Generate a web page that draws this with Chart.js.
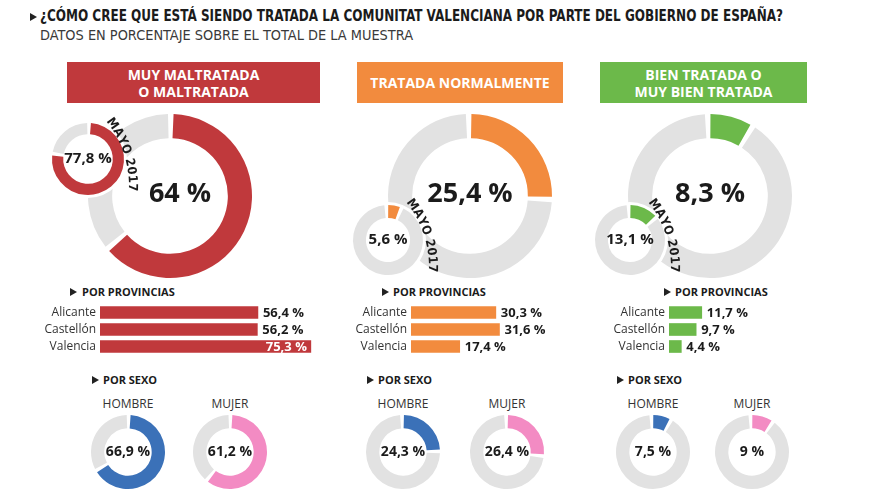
<!DOCTYPE html>
<html><head><meta charset="utf-8">
<script src="https://cdn.jsdelivr.net/npm/chart.js@4.4.1/dist/chart.umd.min.js"></script>
<style>
html,body{margin:0;padding:0;background:#fff;}
body{width:880px;height:495px;position:relative;overflow:hidden;font-family:"Open Sans",sans-serif;color:#1b1b1b;}
.abs{position:absolute;white-space:nowrap;}
canvas{position:absolute;}
.tri{position:absolute;width:0;height:0;border-left:7px solid #222;border-top:4px solid transparent;border-bottom:4px solid transparent;}
.title{left:40px;top:8px;font-family:"Liberation Sans Narrow","DejaVu Sans Condensed",sans-serif;font-weight:bold;font-size:15.5px;line-height:16px;transform-origin:0 0;display:inline-block;}
.sub{left:40px;top:27px;font-family:"Liberation Sans Narrow","DejaVu Sans Condensed",sans-serif;font-size:13.5px;line-height:16px;color:#3a3a3a;transform-origin:0 0;display:inline-block;}
.head{position:absolute;top:62px;height:41px;color:#fff;font-weight:bold;font-size:14px;line-height:17px;text-align:center;display:flex;flex-direction:column;justify-content:center;}
.sec{font-weight:bold;font-size:11px;line-height:14px;}
.sx{font-size:12px;line-height:14px;color:#333;transform:translateX(-50%);}
</style></head>
<body>
<div class="tri" style="left:30px;top:13px"></div>
<div class="abs title" data-fit="743">¿CÓMO CREE QUE ESTÁ SIENDO TRATADA LA COMUNITAT VALENCIANA POR PARTE DEL GOBIERNO DE ESPAÑA?</div>
<div class="abs sub" data-fit="373">DATOS EN PORCENTAJE SOBRE EL TOTAL DE LA MUESTRA</div>

<div class="head" style="left:67px;width:253px;background:#c0393c">MUY MALTRATADA<br>O MALTRATADA</div>
<div class="head" style="left:357px;width:206px;background:#f28b3e">TRATADA NORMALMENTE</div>
<div class="head" style="left:600px;width:207px;background:#6cb94a">BIEN TRATADA O<br>MUY BIEN TRATADA</div>

<div class="tri" style="left:70px;top:288px"></div><div class="abs sec" style="left:82px;top:285px">POR PROVINCIAS</div>
<div class="tri" style="left:382px;top:288px"></div><div class="abs sec" style="left:393px;top:285px">POR PROVINCIAS</div>
<div class="tri" style="left:664px;top:288px"></div><div class="abs sec" style="left:675px;top:285px">POR PROVINCIAS</div>

<div class="tri" style="left:92px;top:376px"></div><div class="abs sec" style="left:103px;top:373px">POR SEXO</div>
<div class="tri" style="left:367px;top:376px"></div><div class="abs sec" style="left:378px;top:373px">POR SEXO</div>
<div class="tri" style="left:617px;top:376px"></div><div class="abs sec" style="left:628px;top:373px">POR SEXO</div>

<script>
// ---- DATA ----
const categories = ['MUY MALTRATADA O MALTRATADA', 'TRATADA NORMALMENTE', 'BIEN TRATADA O MUY BIEN TRATADA'];
const totalValues = [64, 25.4, 8.3];
const mayo2017Values = [77.8, 5.6, 13.1];
const mayoLabel = 'MAYO 2017';
const provinces = ['Alicante', 'Castellón', 'Valencia'];
const provMaltratada = [56.4, 56.2, 75.3];
const provNormal = [30.3, 31.6, 17.4];
const provBien = [11.7, 9.7, 4.4];
const sexLabels = ['HOMBRE', 'MUJER'];
const hombreValues = [66.9, 24.3, 7.5];
const mujerValues = [61.2, 26.4, 9];

// ---- STYLE ----
const colColors = ['#c0393c', '#f28b3e', '#6cb94a'];
const GRAY = '#e2e2e2';
const BLUE = '#3b71b8';
const PINK = '#f38bc3';
const TXT = '#1b1b1b';
const provSeries = [provMaltratada, provNormal, provBien];

function fmt(v) { return String(v).replace('.', ',') + ' %'; }

function makeCanvas(x, y, w, h) {
  const c = document.createElement('canvas');
  c.width = w; c.height = h;
  c.style.left = x + 'px'; c.style.top = y + 'px';
  c.style.width = w + 'px'; c.style.height = h + 'px';
  document.body.appendChild(c);
  return c.getContext('2d');
}

function drawArcText(ctx, text, cx, cy, radius, midDeg, font) {
  ctx.font = font;
  ctx.fillStyle = TXT;
  const sp = 0.3;
  let total = 0;
  for (const ch of text) total += ctx.measureText(ch).width + sp;
  let ang = midDeg * Math.PI / 180 - (total / radius) / 2;
  for (const ch of text) {
    const w = ctx.measureText(ch).width + sp;
    const a = ang + (w / 2) / radius;
    ctx.save();
    ctx.translate(cx + radius * Math.cos(a), cy + radius * Math.sin(a));
    ctx.rotate(a + Math.PI / 2);
    ctx.textAlign = 'center'; ctx.textBaseline = 'alphabetic';
    ctx.fillText(ch, 0, 0);
    ctx.restore();
    ang += w / radius;
  }
}

const decoPlugin = {
  id: 'donutDeco',
  beforeDatasetsDraw(chart, args, o) {
    if (o.halo) {
      const m = chart.getDatasetMeta(0).data[0];
      const ctx = chart.ctx;
      ctx.save();
      ctx.beginPath();
      ctx.arc(m.x, m.y, m.outerRadius + o.halo, 0, Math.PI * 2);
      ctx.fillStyle = '#fff';
      ctx.fill();
      ctx.restore();
    }
  },
  afterDatasetsDraw(chart, args, o) {
    const m = chart.getDatasetMeta(0).data[0];
    const ctx = chart.ctx;
    ctx.save();
    ctx.font = o.font; ctx.fillStyle = TXT;
    ctx.textAlign = 'center'; ctx.textBaseline = 'middle';
    ctx.fillText(o.text, m.x + (o.dx || 0), m.y + (o.dy || 0));
    if (o.arcText) drawArcText(ctx, o.arcText, m.x + o.arcDx, m.y + o.arcDy, o.arcR, o.arcMid, o.arcFont);
    ctx.restore();
  }
};

function donut(cx, cy, r, pad, value, color, cutout, spacing, deco) {
  const size = 2 * (r + pad);
  const ctx = makeCanvas(cx - r - pad, cy - r - pad, size, size);
  return new Chart(ctx, {
    type: 'doughnut',
    data: { labels: ['valor', 'resto'], datasets: [{ data: [value, 100 - value], backgroundColor: [color, GRAY], borderWidth: 0, spacing: spacing, hoverOffset: 0 }] },
    options: { responsive: false, animation: false, cutout: cutout, events: [], layout: { padding: pad },
      plugins: { legend: { display: false }, tooltip: { enabled: false }, donutDeco: deco } },
    plugins: [decoPlugin]
  });
}

const barLabelPlugin = {
  id: 'barLabels',
  afterDatasetsDraw(chart) {
    const ctx = chart.ctx;
    const meta = chart.getDatasetMeta(0);
    const ca = chart.chartArea;
    const vals = chart.data.datasets[0].data;
    ctx.save();
    ctx.textBaseline = 'middle';
    meta.data.forEach((bar, i) => {
      ctx.font = '12px "Open Sans"'; ctx.fillStyle = '#333'; ctx.textAlign = 'right';
      ctx.fillText(chart.data.labels[i], ca.left - 4, bar.y);
      ctx.font = 'bold 13px "Open Sans"';
      const t = fmt(vals[i]);
      const w = ctx.measureText(t).width;
      if (bar.x + 5 + w > ca.right) {
        ctx.fillStyle = '#fff'; ctx.textAlign = 'right'; ctx.fillText(t, bar.x - 4, bar.y + 0.5);
      } else {
        ctx.fillStyle = TXT; ctx.textAlign = 'left'; ctx.fillText(t, bar.x + 5, bar.y + 0.5);
      }
    });
    ctx.restore();
  }
};

function bars(x0, yTop, values, color) {
  const padL = 75, padR = 60, scaleMax = 80, pxPer = 2.8;
  const w = padL + scaleMax * pxPer + padR;
  const ctx = makeCanvas(x0 - padL, yTop, w, 51);
  new Chart(ctx, {
    type: 'bar',
    data: { labels: provinces, datasets: [{ data: values, backgroundColor: color, barThickness: 12, borderWidth: 0 }] },
    options: { indexAxis: 'y', responsive: false, animation: false, events: [],
      layout: { padding: { left: padL, right: padR, top: 0, bottom: 0 } },
      scales: { x: { display: false, min: 0, max: scaleMax }, y: { display: false } },
      plugins: { legend: { display: false }, tooltip: { enabled: false } } },
    plugins: [barLabelPlugin]
  });
}

// ---- LAYOUT ----
const bigCenters = [[170, 196], [470, 196], [710, 196]];
const bigTextDx = [10, 0, 0];
const smallCenters = [[88, 159], [388, 240], [630, 240]];
const smallR = [36, 35, 35];
const smallCut = ['68%', '62%', '62%'];
const barStarts = [100, 411, 669];
const sexCenters = [[[128, 452], [230, 452]], [[403, 452], [507, 452]], [[653, 452], [752, 452]]];

for (let i = 0; i < 3; i++) {
  donut(bigCenters[i][0], bigCenters[i][1], 82, 2, totalValues[i], colColors[i], '70%', 3,
    { text: fmt(totalValues[i]), font: 'bold 27px "Open Sans"', dx: bigTextDx[i], dy: -2 });
  donut(smallCenters[i][0], smallCenters[i][1], smallR[i], 26, mayo2017Values[i], colColors[i], smallCut[i], 2,
    { text: fmt(mayo2017Values[i]), font: 'bold 15px "Open Sans"', halo: 4,
      arcText: mayoLabel, arcDx: -62, arcDy: 27, arcR: 103, arcMid: -18,
      arcFont: 'bold 12.5px "Liberation Sans Narrow", "DejaVu Sans Condensed", sans-serif' });
  bars(barStarts[i], 304, provSeries[i], colColors[i]);
  const sv = [hombreValues[i], mujerValues[i]];
  const sc = [BLUE, PINK];
  for (let j = 0; j < 2; j++) {
    const [cx, cy] = sexCenters[i][j];
    donut(cx, cy, 37, 1, sv[j], sc[j], '63%', 2, { text: fmt(sv[j]), font: 'bold 14px "Open Sans"' });
    const d = document.createElement('div');
    d.className = 'abs sx'; d.textContent = sexLabels[j];
    d.style.left = cx + 'px'; d.style.top = '397px';
    document.body.appendChild(d);
  }
}

document.querySelectorAll('[data-fit]').forEach(el => {
  const w = el.getBoundingClientRect().width;
  el.style.transform = 'scaleX(' + (+el.dataset.fit / w) + ')';
});
</script>
</body></html>
